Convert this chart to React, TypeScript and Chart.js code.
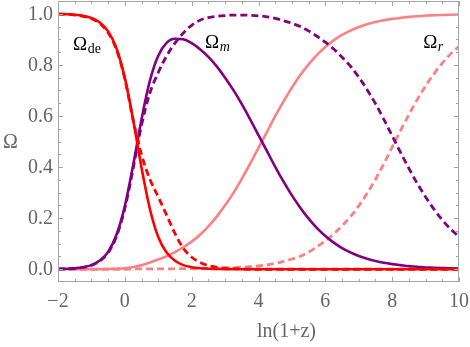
import React, { useEffect, useRef } from "react";
import { Chart, registerables } from "chart.js";

Chart.register(...registerables);

// ln(1+z)
const lnz = [
  -2, -1.75, -1.5, -1.25, -1, -0.75, -0.5, -0.25, 0, 0.25, 0.5, 0.75, 1, 1.25, 1.5, 1.75,
  2, 2.25, 2.5, 2.75, 3, 3.25, 3.5, 3.75, 4, 4.25, 4.5, 4.75, 5, 5.25, 5.5, 5.75,
  6, 6.25, 6.5, 6.75, 7, 7.25, 7.5, 7.75, 8, 8.25, 8.5, 8.75, 9, 9.25, 9.5, 9.75, 10,
];

const omegaDeSolid = [
  0.999, 0.998, 0.996, 0.992, 0.984, 0.966, 0.931, 0.865, 0.749, 0.584, 0.397, 0.236, 0.126, 0.065, 0.033, 0.016,
  0.008, 0.004, 0.002, 0.001, 0, 0, 0, 0, 0, 0, 0, 0, 0, 0, 0, 0,
  0, 0, 0, 0, 0, 0, 0, 0, 0, 0, 0, 0, 0, 0, 0, 0, 0,
];
const omegaMSolid = [
  0.001, 0.002, 0.004, 0.008, 0.016, 0.034, 0.068, 0.135, 0.247, 0.408, 0.587, 0.738, 0.836, 0.886, 0.902, 0.9,
  0.885, 0.861, 0.831, 0.794, 0.75, 0.701, 0.646, 0.587, 0.525, 0.463, 0.401, 0.343, 0.289, 0.241, 0.198, 0.161,
  0.13, 0.104, 0.083, 0.066, 0.052, 0.041, 0.032, 0.025, 0.02, 0.016, 0.012, 0.01, 0.007, 0.006, 0.005, 0.004, 0.003,
];
const omegaRSolid = [
  0, 0, 0, 0, 0, 0, 0.001, 0.002, 0.004, 0.009, 0.016, 0.026, 0.038, 0.051, 0.067, 0.086,
  0.108, 0.135, 0.168, 0.206, 0.25, 0.299, 0.354, 0.413, 0.475, 0.537, 0.599, 0.657, 0.711, 0.76, 0.802, 0.839,
  0.87, 0.896, 0.917, 0.934, 0.948, 0.959, 0.968, 0.975, 0.98, 0.984, 0.988, 0.99, 0.993, 0.994, 0.995, 0.996, 0.997,
];
const omegaDeDashed = [
  0.999, 0.998, 0.995, 0.99, 0.981, 0.962, 0.926, 0.86, 0.745, 0.583, 0.448, 0.352, 0.283, 0.212, 0.14, 0.082,
  0.047, 0.027, 0.014, 0.008, 0.004, 0.002, 0.001, 0, 0, 0, 0, 0, 0, 0, 0, 0,
  0, 0, 0, 0, 0, 0, 0, 0, 0, 0, 0, 0, 0, 0, 0, 0, 0,
];
const omegaMDashed = [
  0.001, 0.0015, 0.003, 0.007, 0.015, 0.032, 0.064, 0.128, 0.238, 0.395, 0.565, 0.69, 0.77, 0.835, 0.885, 0.925,
  0.955, 0.975, 0.985, 0.99, 0.993, 0.995, 0.995, 0.994, 0.992, 0.988, 0.982, 0.973, 0.963, 0.95, 0.933, 0.912,
  0.889, 0.862, 0.83, 0.795, 0.752, 0.703, 0.648, 0.587, 0.522, 0.457, 0.395, 0.336, 0.283, 0.235, 0.193, 0.157, 0.127,
];
const omegaRDashed = [
  0, 0, 0, 0, 0, 0, 0, 0, 0, 0.001, 0.001, 0.001, 0.001, 0.001, 0.002, 0.002,
  0.002, 0.003, 0.003, 0.004, 0.005, 0.006, 0.008, 0.01, 0.013, 0.017, 0.023, 0.031, 0.04, 0.051, 0.067, 0.088,
  0.111, 0.138, 0.17, 0.205, 0.248, 0.297, 0.352, 0.413, 0.478, 0.543, 0.605, 0.664, 0.717, 0.765, 0.807, 0.843, 0.873,
];

const xTickValues = [-2, 0, 2, 4, 6, 8, 10];
const xTickLabels = ["\u22122", "0", "2", "4", "6", "8", "10"];
const yTickValues = [0, 0.2, 0.4, 0.6, 0.8, 1.0];
const yTickLabels = ["0.0", "0.2", "0.4", "0.6", "0.8", "1.0"];
const xAxisTitle = "ln(1+z)";
const yAxisTitle = "\u03A9";

const RED = "rgb(255,0,0)";
const PURPLE = "rgb(128,0,128)";
const PINK = "rgb(255,128,128)";
const SERIF = '"Liberation Serif", "DejaVu Serif", serif';

const toPoints = (ys: number[]) => lnz.map((x, i) => ({ x, y: ys[i] }));

const framePlugin = {
  id: "mmaFrame",
  afterDraw(chart: any) {
    const { ctx, chartArea: a, scales } = chart;
    const xs = scales.x;
    const ys = scales.y;
    ctx.save();
    // frame
    ctx.strokeStyle = "#a6a6a6";
    ctx.lineWidth = 1;
    ctx.strokeRect(a.left + 0.5, a.top + 0.5, a.right - a.left - 1, a.bottom - a.top - 1);
    // x ticks (inward, bottom & top)
    for (let k = 0; k <= 24; k++) {
      const v = -2 + k * 0.5;
      const px = Math.round(xs.getPixelForValue(v)) + 0.5;
      const len = k % 4 === 0 ? 5 : 3;
      ctx.beginPath();
      ctx.moveTo(px, a.bottom);
      ctx.lineTo(px, a.bottom - len);
      ctx.moveTo(px, a.top);
      ctx.lineTo(px, a.top + len);
      ctx.stroke();
    }
    // y ticks (inward, left & right)
    for (let k = -1; k <= 21; k++) {
      const v = k * 0.05;
      const py = Math.round(ys.getPixelForValue(v)) + 0.5;
      if (py < a.top || py > a.bottom) continue;
      const len = k % 4 === 0 ? 5 : 3;
      ctx.beginPath();
      ctx.moveTo(a.left, py);
      ctx.lineTo(a.left + len, py);
      ctx.moveTo(a.right, py);
      ctx.lineTo(a.right - len, py);
      ctx.stroke();
    }
    // tick labels
    ctx.fillStyle = "#666666";
    ctx.font = `20px ${SERIF}`;
    ctx.textAlign = "center";
    ctx.textBaseline = "alphabetic";
    xTickValues.forEach((v, i) => {
      ctx.fillText(xTickLabels[i], xs.getPixelForValue(v), a.bottom + 25);
    });
    ctx.textAlign = "right";
    ctx.textBaseline = "middle";
    yTickValues.forEach((v, i) => {
      ctx.fillText(yTickLabels[i], a.left - 5, ys.getPixelForValue(v) + 1);
    });
    // axis titles
    ctx.textAlign = "center";
    ctx.textBaseline = "alphabetic";
    ctx.font = `20px ${SERIF}`;
    ctx.fillText(xAxisTitle, (a.left + a.right) / 2 + 28, a.bottom + 55);
    ctx.textAlign = "left";
    ctx.fillText(yAxisTitle, 3, 148);
    // curve labels
    ctx.fillStyle = "#000";
    const drawLabel = (x: number, y: number, sub: string, italic: boolean) => {
      const px = xs.getPixelForValue(x);
      const py = ys.getPixelForValue(y);
      ctx.font = `19px ${SERIF}`;
      ctx.textAlign = "left";
      ctx.fillText("\u03A9", px, py);
      const w = ctx.measureText("\u03A9").width;
      ctx.font = `${italic ? "italic " : ""}14px ${SERIF}`;
      ctx.fillText(sub, px + w + 0.5, py + 3);
    };
    drawLabel(-1.55, 0.858, "de", false);
    drawLabel(2.4, 0.866, "m", true);
    drawLabel(8.93, 0.866, "r", true);
    ctx.restore();
  },
};

export default function App() {
  const ref = useRef<HTMLCanvasElement | null>(null);
  useEffect(() => {
    if (!ref.current) return;
    const solid = { borderWidth: 2.6, pointRadius: 0, fill: false, cubicInterpolationMode: "monotone" as const };
    const dashed = { ...solid, borderWidth: 2.8, borderDash: [7, 4] };
    const chart = new Chart(ref.current, {
      type: "line",
      data: {
        datasets: [
          { label: "Ωde", data: toPoints(omegaDeSolid), borderColor: RED, ...solid },
          { label: "Ωde dashed", data: toPoints(omegaDeDashed), borderColor: RED, ...dashed },
          { label: "Ωm", data: toPoints(omegaMSolid), borderColor: PURPLE, ...solid },
          { label: "Ωm dashed", data: toPoints(omegaMDashed), borderColor: PURPLE, ...dashed },
          { label: "Ωr", data: toPoints(omegaRSolid), borderColor: PINK, ...solid },
          { label: "Ωr dashed", data: toPoints(omegaRDashed), borderColor: PINK, ...dashed },
        ],
      },
      options: {
        animation: false,
        responsive: false,
        devicePixelRatio: 1,
        layout: { padding: { left: 58, right: 11, top: 1, bottom: 65 } },
        plugins: { legend: { display: false }, tooltip: { enabled: false } },
        scales: {
          x: { type: "linear", min: -2, max: 10, display: false },
          y: { type: "linear", min: -0.05, max: 1.05, display: false },
        },
      },
      plugins: [framePlugin],
    });
    return () => chart.destroy();
  }, []);
  return (
    <div style={{ position: "fixed", left: 0, top: 0, width: 470, height: 347, background: "#fff" }}>
      <canvas ref={ref} width={470} height={347} style={{ width: 470, height: 347, display: "block" }} />
    </div>
  );
}
